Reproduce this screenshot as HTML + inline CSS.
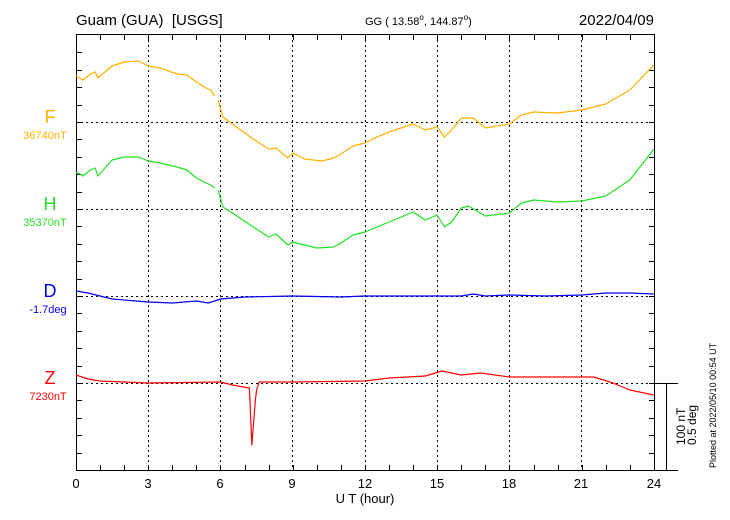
<!DOCTYPE html>
<html><head><meta charset="utf-8"><style>
body{margin:0;background:#fff}
svg{display:block;font-family:"Liberation Sans",Arial,sans-serif}
</style></head><body>
<svg width="730" height="520" viewBox="0 0 730 520" xmlns="http://www.w3.org/2000/svg">
<rect width="730" height="520" fill="#fff"/>
<g fill="#000">
<text x="76" y="25" font-size="15" xml:space="preserve">Guam (GUA)  [USGS]</text>
<text x="365" y="25" font-size="11">GG ( 13.58<tspan dy="-5" font-size="8">o</tspan><tspan dy="5">, 144.87</tspan><tspan dy="-5" font-size="8">o</tspan><tspan dy="5">)</tspan></text>
<text x="654" y="25" font-size="15" text-anchor="end">2022/04/09</text>
</g>
<g stroke="#000" stroke-width="1" stroke-dasharray="2,3" shape-rendering="crispEdges">
<line x1="148.5" y1="35" x2="148.5" y2="470"/><line x1="220.5" y1="35" x2="220.5" y2="470"/>
<line x1="292.5" y1="35" x2="292.5" y2="470"/><line x1="365.5" y1="35" x2="365.5" y2="470"/>
<line x1="437.5" y1="35" x2="437.5" y2="470"/><line x1="509.5" y1="35" x2="509.5" y2="470"/>
<line x1="581.5" y1="35" x2="581.5" y2="470"/>
<line x1="76" y1="122.5" x2="654" y2="122.5"/><line x1="76" y1="209.5" x2="654" y2="209.5"/>
<line x1="76" y1="296.5" x2="654" y2="296.5"/><line x1="76" y1="383.5" x2="654" y2="383.5"/>
</g>
<g stroke="#000" stroke-width="1" fill="none" shape-rendering="crispEdges">
<rect x="76.5" y="34.5" width="578" height="436"/>
<line x1="654" y1="470.5" x2="678" y2="470.5"/>
<line x1="654" y1="383.5" x2="678" y2="383.5"/>
<line x1="666.5" y1="383" x2="666.5" y2="470"/>
<path d="M100.5 35v5M124.5 35v5M148.5 35v5M172.5 35v5M196.5 35v5M220.5 35v5M245.5 35v5M269.5 35v5M293.5 35v5M317.5 35v5M341.5 35v5M365.5 35v5M389.5 35v5M413.5 35v5M437.5 35v5M461.5 35v5M485.5 35v5M509.5 35v5M534.5 35v5M558.5 35v5M582.5 35v5M606.5 35v5M630.5 35v5
M100.5 470v-5M124.5 470v-5M148.5 470v-5M172.5 470v-5M196.5 470v-5M220.5 470v-5M245.5 470v-5M269.5 470v-5M293.5 470v-5M317.5 470v-5M341.5 470v-5M365.5 470v-5M389.5 470v-5M413.5 470v-5M437.5 470v-5M461.5 470v-5M485.5 470v-5M509.5 470v-5M534.5 470v-5M558.5 470v-5M582.5 470v-5M606.5 470v-5M630.5 470v-5
M77 52.5h5M77 70.5h5M77 87.5h5M77 105.5h5M77 122.5h5M77 139.5h5M77 157.5h5M77 174.5h5M77 192.5h5M77 209.5h5M77 226.5h5M77 244.5h5M77 261.5h5M77 279.5h5M77 296.5h5M77 313.5h5M77 331.5h5M77 348.5h5M77 366.5h5M77 383.5h5M77 400.5h5M77 418.5h5M77 435.5h5M77 453.5h5
M654 52.5h-5M654 70.5h-5M654 87.5h-5M654 105.5h-5M654 122.5h-5M654 139.5h-5M654 157.5h-5M654 174.5h-5M654 192.5h-5M654 209.5h-5M654 226.5h-5M654 244.5h-5M654 261.5h-5M654 279.5h-5M654 296.5h-5M654 313.5h-5M654 331.5h-5M654 348.5h-5M654 366.5h-5M654 383.5h-5M654 400.5h-5M654 418.5h-5M654 435.5h-5M654 453.5h-5"/>
</g>
<g font-size="13" text-anchor="middle" fill="#000">
<text x="76" y="488">0</text><text x="148" y="488">3</text><text x="220" y="488">6</text><text x="292" y="488">9</text><text x="365" y="488">12</text><text x="437" y="488">15</text><text x="509" y="488">18</text><text x="581" y="488">21</text><text x="654" y="488">24</text>
<text x="365" y="503">U T (hour)</text>
</g>
<text font-size="12" fill="#000" transform="translate(685,445) rotate(-90)">100 nT</text>
<text font-size="12" fill="#000" transform="translate(696,445) rotate(-90)">0.5 deg</text>
<text font-size="9" fill="#000" transform="translate(716,468) rotate(-90)">Plotted at 2022/05/10 00:54 UT</text>
<g text-anchor="middle">
<text x="50" y="123" font-size="18" fill="#ffb000">F</text>
<text x="45" y="139" font-size="11" fill="#ffb000">36740nT</text>
<text x="50" y="210" font-size="18" fill="#22e022">H</text>
<text x="45" y="226" font-size="11" fill="#22e022">35370nT</text>
<text x="50" y="297" font-size="18" fill="#0000ee">D</text>
<text x="48" y="313" font-size="11" fill="#0000ee">-1.7deg</text>
<text x="50" y="384" font-size="18" fill="#ff0000">Z</text>
<text x="48" y="400" font-size="11" fill="#ff0000">7230nT</text>
</g>
<g fill="none" stroke-width="1.2" stroke-linejoin="round">
<path stroke="#ffb000" d="M76 76L83.2 80L90.4 74L95.3 72L97.7 78L112.1 66L124.2 62L138.6 61L148.2 66L160.3 68L177.1 74L186.8 75L196.4 82L206 88L210.8 90L214.5 96M218.1 100L222.9 117L232.5 124L251.8 138L268.6 149L275.9 148L287.9 158L292.7 153L304.8 159L321.6 161L333.7 158L340.9 154L352.9 146L365 143L377 137L389 132L401.1 128L413.1 124L425.2 130L437.2 127L444.4 137L451.6 130L461.3 118L473.3 118L485.4 128L509.4 124L521.5 115L533.5 112L557.6 113L581.7 110L605.8 104L629.8 90L653.9 65"/>
<path stroke="#22e022" d="M76 172L83.2 176L90.4 170L95.3 168L97.7 176L112.1 160L124.2 157L138.6 157L148.2 161L160.3 163L177.1 167L186.8 170L196.4 178L206 183L210.8 185L214.5 188M218.1 190L222.9 207L232.5 213L251.8 226L268.6 237L275.9 234L287.9 245L292.7 242L316.8 248L333.7 247L340.9 243L352.9 235L365 232L377 227L389 222L401.1 217L413.1 212L425.2 220L437.2 215L444.4 227L451.6 222L461.3 208L468.5 206L485.4 216L509.4 213L521.5 203L533.5 200L557.6 202L581.7 201L605.8 196L629.8 180L653.9 149"/>
<path stroke="#0000ee" d="M76 291L88 293L112.1 299L148.2 302L172.3 303L196.4 301L208.4 303L220.5 299L244.6 297L292.7 296L340.9 297L365 296L413.1 296L461.3 296L473.3 294L485.4 296L509.4 295L545.6 296L581.7 295L605.8 293L629.8 293L653.9 294"/>
<path stroke="#ff0000" d="M76 375L88 379L100.1 381L148.2 383L220.5 382L232.5 385L249.4 388L251.8 445L255.4 400L256.6 390L259 382L292.7 382L365 381L389 378L425.2 376L442 371L461.3 375L480.5 373L509.4 377L557.6 377L593.7 377L613 383L629.8 390L653.9 395"/>
</g>
</svg>
</body></html>
